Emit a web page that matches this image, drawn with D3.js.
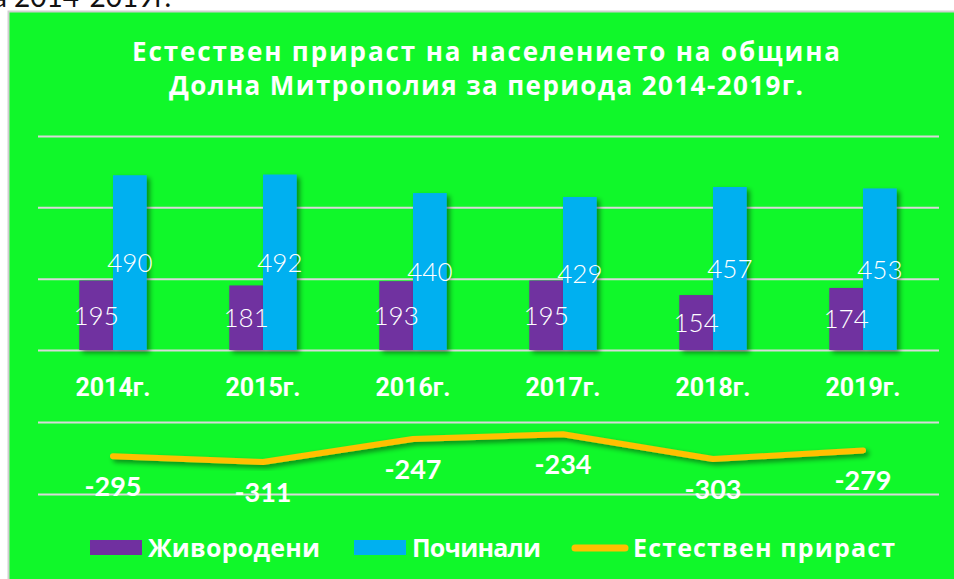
<!DOCTYPE html>
<html>
<head>
<meta charset="utf-8">
<script src="https://cdn.jsdelivr.net/npm/d3@7"></script>
<style>
  body { margin: 0; background: #ffffff; overflow: hidden; }
  svg text { font-family: 'Lato', 'Noto Sans', sans-serif; fill: #ffffff; }
  svg text.wide { font-family: 'Open Sans', 'Noto Sans', sans-serif; }
</style>
</head>
<body>
<svg width="954" height="579"></svg>
<script>
// chart data
var years = ['2014г.', '2015г.', '2016г.', '2017г.', '2018г.', '2019г.'];
var births = [195, 181, 193, 195, 154, 174];
var deaths = [490, 492, 440, 429, 457, 453];
var growth = [-295, -311, -247, -234, -303, -279];
var barTicks = [0, 200, 400, 600];
var lineTicks = [-400, -200];
var seriesNames = ['Живородени', 'Починали', 'Естествен прираст'];
var titleLines = ['Естествен прираст на населението на община', 'Долна Митрополия за периода 2014-2019г.'];

var colors = {births: '#7030a0', deaths: '#00b0f0', growth: '#ffc000'};

var svg = d3.select('svg');
var width = +svg.attr('width');
var height = +svg.attr('height');

var defs = svg.append('defs');
var shadow = defs.append('filter')
    .attr('id', 'shadow')
    .attr('x', '-30%').attr('y', '-30%')
    .attr('width', '160%').attr('height', '160%');
shadow.append('feDropShadow')
    .attr('dx', 3).attr('dy', 3)
    .attr('stdDeviation', 2.5)
    .attr('flood-color', '#000')
    .attr('flood-opacity', 0.45);

// text of the page above, cut off by the crop
svg.append('text')
    .attr('x', -7)
    .attr('y', 7)
    .style('fill', '#111')
    .style('font-size', '28px')
    .text('а 2014-2019г.');

// green panel
svg.append('rect')
    .attr('x', 8.5)
    .attr('y', 11.5)
    .attr('width', width)
    .attr('height', height)
    .style('fill', '#10f82a')
    .style('stroke', '#d0d0d0')
    .style('stroke-width', 2);

// Century Gothic is wider than the fonts we have, so stretch to the original widths
var titleWidths = [708, 634];
svg.selectAll('.title')
    .data(titleLines)
    .enter()
    .append('text')
    .attr('class', 'title wide')
    .attr('x', 486)
    .attr('y', function(d, i) { return 61 + i * 34; })
    .attr('text-anchor', 'middle')
    .attr('textLength', function(d, i) { return titleWidths[i]; })
    .attr('lengthAdjust', 'spacing')
    .style('font-size', '26px')
    .style('font-weight', 'bold')
    .text(function(d) { return d; });

var plot = {left: 38, right: 938};

var xScale = d3.scaleBand()
    .domain(years)
    .range([plot.left, plot.right])
    .paddingInner(0)
    .paddingOuter(0);

var subScale = d3.scaleBand()
    .domain(['births', 'deaths'])
    .range([0, 67.4])
    .padding(0);

var groupOffset = (xScale.bandwidth() - 67.4) / 2;

var yScale = d3.scaleLinear()
    .domain([0, 600])
    .range([350, 136]);

var yLine = d3.scaleLinear()
    .domain([-400, -200])
    .range([494, 422]);

// gridlines
var gridStyle = function(g) {
    g.select('.domain').remove();
    g.selectAll('.tick line')
        .style('stroke', '#d9d9d9')
        .style('stroke-width', 2);
    g.selectAll('.tick text').remove();
};

svg.append('g')
    .attr('class', 'y grid')
    .attr('transform', 'translate(' + plot.left + ',0)')
    .call(d3.axisLeft(yScale).tickValues(barTicks).tickSize(-(plot.right - plot.left + 1)))
    .call(gridStyle);

svg.append('g')
    .attr('class', 'y grid')
    .attr('transform', 'translate(' + plot.left + ',0)')
    .call(d3.axisLeft(yLine).tickValues(lineTicks).tickSize(-(plot.right - plot.left + 1)))
    .call(gridStyle);

// bars
var barData = years.map(function(y, i) {
    return {year: y, births: births[i], deaths: deaths[i]};
});

var groups = svg.selectAll('.group')
    .data(barData)
    .enter()
    .append('g')
    .attr('class', 'group')
    .attr('transform', function(d) {
        return 'translate(' + (xScale(d.year) + groupOffset) + ',0)';
    });

groups.selectAll('rect')
    .data(function(d) {
        return ['births', 'deaths'].map(function(k) { return {key: k, value: d[k]}; });
    })
    .enter()
    .append('rect')
    .attr('x', function(d) { return subScale(d.key); })
    .attr('y', function(d) { return yScale(d.value); })
    .attr('width', subScale.bandwidth())
    .attr('height', function(d) { return yScale(0) - yScale(d.value); })
    .attr('filter', 'url(#shadow)')
    .style('fill', function(d) { return colors[d.key]; });

groups.selectAll('.value')
    .data(function(d) {
        return ['births', 'deaths'].map(function(k) { return {key: k, value: d[k]}; });
    })
    .enter()
    .append('text')
    .attr('class', 'value')
    .attr('x', function(d) { return subScale(d.key) + subScale.bandwidth() / 2; })
    .attr('y', function(d) { return (yScale(d.value) + yScale(0)) / 2; })
    .attr('dy', '0.36em')
    .attr('text-anchor', 'middle')
    .style('font-size', '26px')
    .style('font-weight', 300)
    .text(function(d) { return d.value; });

// category labels
svg.append('g')
    .attr('class', 'x axis')
    .attr('transform', 'translate(0,370)')
    .call(d3.axisBottom(xScale).tickSize(0).tickPadding(0))
    .call(function(g) {
        g.select('.domain').remove();
        g.selectAll('text')
            .attr('dy', 26)
            .style('fill', '#fff')
            .style('font-family', 'Roboto, sans-serif')
            .style('font-size', '25px')
            .style('font-weight', 'bold');
    });

// natural growth line
var centerX = function(d, i) { return xScale(years[i]) + xScale.bandwidth() / 2; };

var line = d3.line()
    .x(function(d, i) { return centerX(d, i); })
    .y(function(d) { return yLine(d); });

svg.append('path')
    .datum(growth)
    .attr('d', line)
    .attr('filter', 'url(#shadow)')
    .style('fill', 'none')
    .style('stroke', colors.growth)
    .style('stroke-width', 6)
    .style('stroke-linecap', 'round')
    .style('stroke-linejoin', 'round');

svg.selectAll('.growth-label')
    .data(growth)
    .enter()
    .append('text')
    .attr('class', 'growth-label')
    .attr('x', function(d, i) { return centerX(d, i); })
    .attr('y', function(d) { return yLine(d) + 30; })
    .attr('dy', '0.36em')
    .attr('text-anchor', 'middle')
    .style('font-size', '27px')
    .style('font-weight', 'bold')
    .text(function(d) { return d; });

// legend
var legend = svg.append('g').attr('class', 'legend')
    .attr('transform', 'translate(0,548)');

var legendX = [90, 354, 572];
var legendTextWidths = [172, 129, 262];
var legendKeys = ['births', 'deaths', 'growth'];

var items = legend.selectAll('.item')
    .data(seriesNames)
    .enter()
    .append('g')
    .attr('class', 'item')
    .attr('transform', function(d, i) { return 'translate(' + legendX[i] + ',0)'; });

items.filter(function(d, i) { return i < 2; })
    .append('rect')
    .attr('x', 0)
    .attr('y', -8)
    .attr('width', 52)
    .attr('height', 15)
    .style('fill', function(d, i) { return colors[legendKeys[i]]; });

items.filter(function(d, i) { return i === 2; })
    .append('line')
    .attr('x1', 3).attr('x2', 53)
    .attr('y1', 0).attr('y2', 0)
    .style('stroke', colors.growth)
    .style('stroke-width', 7)
    .style('stroke-linecap', 'round');

items.append('text')
    .attr('class', 'wide')
    .attr('x', function(d, i) { return i < 2 ? 58 : 61; })
    .attr('y', 0)
    .attr('dy', '0.36em')
    .attr('textLength', function(d, i) { return legendTextWidths[i]; })
    .attr('lengthAdjust', 'spacing')
    .style('font-size', '25px')
    .style('font-weight', 'bold')
    .text(function(d) { return d; });
</script>
</body>
</html>
